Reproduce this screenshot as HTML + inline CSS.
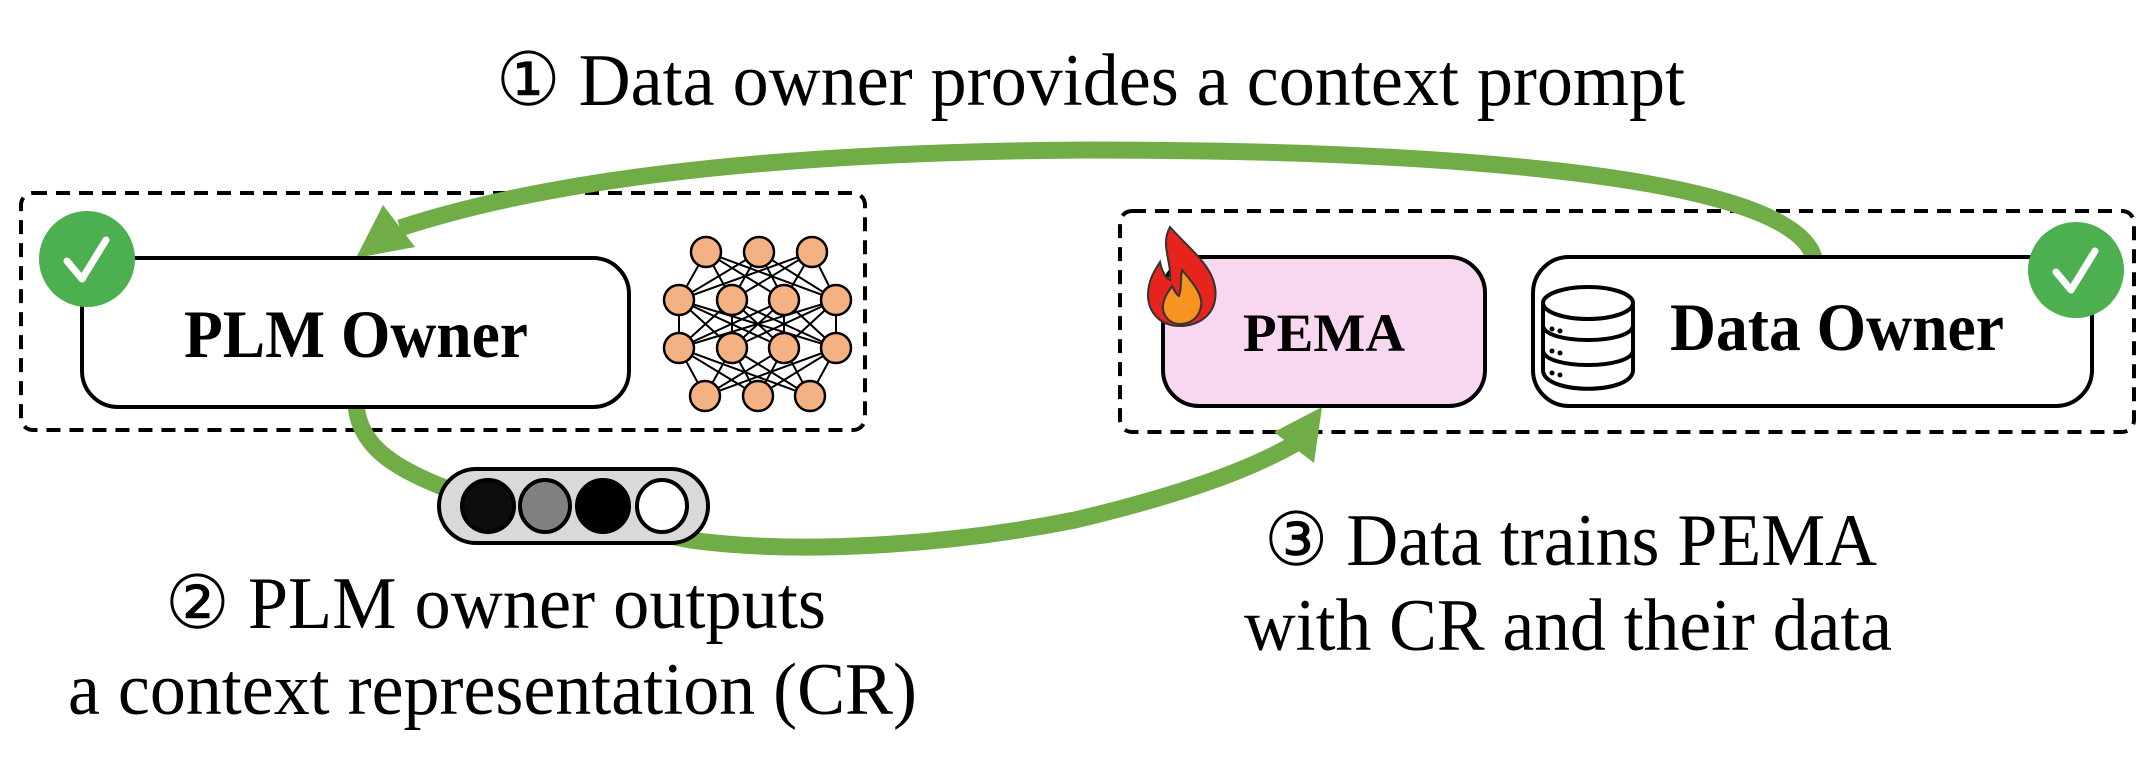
<!DOCTYPE html>
<html><head><meta charset="utf-8"><style>
html,body{margin:0;padding:0;background:#fff;}
svg{display:block;}
</style></head><body>
<svg width="2151" height="776" viewBox="0 0 2151 776" xmlns="http://www.w3.org/2000/svg">
<!-- dashed containers -->
<rect x="21" y="193" width="844" height="237" rx="12" fill="none" stroke="#000" stroke-width="4" stroke-dasharray="14,9"/>
<rect x="1120" y="211" width="1014" height="221" rx="12" fill="none" stroke="#000" stroke-width="4" stroke-dasharray="14,9"/>

<!-- arrow 1 -->
<path d="M1814,258 C1790,170 1400,150 1088,150 C760,152 540,182 400,228" fill="none" stroke="#70ad47" stroke-width="17"/>
<polygon points="356,258 383,205 415,247" fill="#70ad47"/>

<!-- arrow 2/3 -->
<path d="M356,405 C360,450 400,470 450,490 L690,540 C800,555 950,545 1075,520 C1180,495 1250,470 1298,442" fill="none" stroke="#70ad47" stroke-width="17"/>
<polygon points="1322,407 1274,432 1314,463" fill="#70ad47"/>

<!-- PLM box -->
<rect x="82" y="258" width="547" height="149" rx="36" fill="#fff" stroke="#000" stroke-width="4"/>
<text x="356" y="357" font-family="Liberation Serif, serif" font-weight="bold" font-size="68" text-anchor="middle" textLength="344" lengthAdjust="spacingAndGlyphs">PLM Owner</text>
<circle cx="87" cy="259" r="48" fill="#4caf50"/>
<path d="M67,261 L82,279 L106,240" fill="none" stroke="#fff" stroke-width="7" stroke-linecap="round" stroke-linejoin="round"/>

<!-- neural net -->
<g stroke="#000" stroke-width="2">
<path d="M706,252 L679,300 M706,252 L732,300 M706,252 L784,300 M706,252 L836,300 M759,252 L679,300 M759,252 L732,300 M759,252 L784,300 M759,252 L836,300 M812,252 L679,300 M812,252 L732,300 M812,252 L784,300 M812,252 L836,300"/>
<path d="M679,300 L679,348 M679,300 L732,348 M679,300 L784,348 M679,300 L836,348 M732,300 L679,348 M732,300 L732,348 M732,300 L784,348 M732,300 L836,348 M784,300 L679,348 M784,300 L732,348 M784,300 L784,348 M784,300 L836,348 M836,300 L679,348 M836,300 L732,348 M836,300 L784,348 M836,300 L836,348"/>
<path d="M705,396 L679,348 M705,396 L732,348 M705,396 L784,348 M705,396 L836,348 M758,396 L679,348 M758,396 L732,348 M758,396 L784,348 M758,396 L836,348 M810,396 L679,348 M810,396 L732,348 M810,396 L784,348 M810,396 L836,348"/>
</g>
<g fill="#f4b183" stroke="#000" stroke-width="2.5">
<circle cx="706" cy="252" r="15"/><circle cx="759" cy="252" r="15"/><circle cx="812" cy="252" r="15"/>
<circle cx="679" cy="300" r="15"/><circle cx="732" cy="300" r="15"/><circle cx="784" cy="300" r="15"/><circle cx="836" cy="300" r="15"/>
<circle cx="679" cy="348" r="15"/><circle cx="732" cy="348" r="15"/><circle cx="784" cy="348" r="15"/><circle cx="836" cy="348" r="15"/>
<circle cx="705" cy="396" r="15"/><circle cx="758" cy="396" r="15"/><circle cx="810" cy="396" r="15"/>
</g>

<!-- token pill -->
<rect x="439" y="469" width="269" height="74" rx="37" fill="#d9d9d9" stroke="#000" stroke-width="4"/>
<g stroke="#000" stroke-width="4">
<ellipse cx="488" cy="506" rx="26" ry="26" fill="#0d0d0d"/>
<ellipse cx="545" cy="506" rx="25" ry="26" fill="#808080"/>
<ellipse cx="603" cy="506" rx="26" ry="26" fill="#000"/>
<ellipse cx="662" cy="506" rx="25" ry="26" fill="#fff"/>
</g>

<!-- PEMA box -->
<rect x="1163" y="257" width="322" height="149" rx="36" fill="#f8d7f0" stroke="#000" stroke-width="4"/>
<text x="1324" y="351" font-family="Liberation Serif, serif" font-weight="bold" font-size="54" text-anchor="middle" textLength="162" lengthAdjust="spacingAndGlyphs">PEMA</text>
<!-- fire -->
<path d="M1170,227 C1190,250 1220,270 1215,300 C1212,318 1195,326 1180,326 C1160,326 1148,312 1148,295 C1148,280 1155,270 1160,262 C1162,272 1166,278 1170,280 C1172,262 1160,245 1170,227 Z" fill="#e8231d" stroke="#333" stroke-width="2"/>
<path d="M1182,270 C1195,285 1205,298 1200,310 C1197,320 1188,324 1180,324 C1170,324 1162,316 1163,305 C1164,296 1170,290 1172,286 C1175,292 1177,295 1179,296 C1182,288 1180,280 1182,270 Z" fill="#f7931e" stroke="#333" stroke-width="2"/>

<!-- Data owner box -->
<rect x="1533" y="257" width="559" height="149" rx="36" fill="#fff" stroke="#000" stroke-width="4"/>
<g fill="none" stroke="#000" stroke-width="4">
<path d="M1543,305 L1543,370 C1543,395 1633,395 1633,370 L1633,305"/>
<ellipse cx="1588" cy="303" rx="45" ry="16"/>
<path d="M1543,325 C1543,345 1633,345 1633,325"/>
<path d="M1543,350 C1543,370 1633,370 1633,350"/>
</g>
<g fill="#000"><circle cx="1552" cy="329" r="2.5"/><circle cx="1560" cy="331" r="2.5"/><circle cx="1552" cy="351" r="2.5"/><circle cx="1560" cy="353" r="2.5"/><circle cx="1552" cy="373" r="2.5"/><circle cx="1560" cy="375" r="2.5"/></g>
<text x="1670" y="350" font-family="Liberation Serif, serif" font-weight="bold" font-size="68" textLength="334" lengthAdjust="spacingAndGlyphs">Data Owner</text>
<circle cx="2076" cy="270" r="48" fill="#4caf50"/>
<path d="M2056,272 L2071,290 L2095,251" fill="none" stroke="#fff" stroke-width="7" stroke-linecap="round" stroke-linejoin="round"/>

<!-- labels -->
<g font-family="Liberation Serif, DejaVu Serif, serif" font-size="74" fill="#000">
<text x="496" y="105" textLength="1189" lengthAdjust="spacingAndGlyphs">① Data owner provides a context prompt</text>
<text x="165" y="628" textLength="661" lengthAdjust="spacingAndGlyphs">② PLM owner outputs</text>
<text x="68" y="714" textLength="849" lengthAdjust="spacingAndGlyphs">a context representation (CR)</text>
<text x="1264" y="565" textLength="613" lengthAdjust="spacingAndGlyphs">③ Data trains PEMA</text>
<text x="1244" y="650" textLength="648" lengthAdjust="spacingAndGlyphs">with CR and their data</text>
</g>
</svg>
</body></html>
